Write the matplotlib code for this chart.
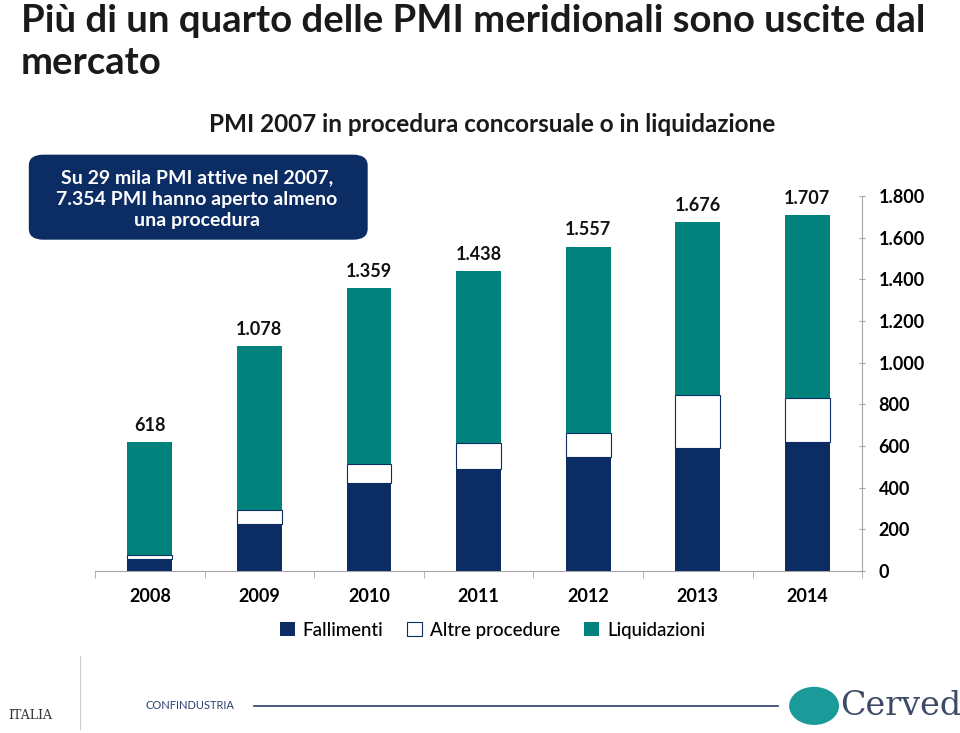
import matplotlib
matplotlib.use("Agg")
import matplotlib.pyplot as plt
from matplotlib.patches import FancyBboxPatch, Circle
import numpy as np

years = ["2008", "2009", "2010", "2011", "2012", "2013", "2014"]
fallimenti = [56, 226, 424, 491, 549, 590, 621]
altre = [22, 67, 90, 122, 112, 254, 210]
totali = [618, 1078, 1359, 1438, 1557, 1676, 1707]
liquidazioni = [t - f - a for t, f, a in zip(totali, fallimenti, altre)]
yticks = [0, 200, 400, 600, 800, 1000, 1200, 1400, 1600, 1800]

NAVY = "#0c2d63"
TEAL = "#00817c"
GRAY = "#a6a6a6"

plt.rcParams['font.family'] = ['Lato', 'DejaVu Sans']

def it_fmt(v):
    return f"{int(v):,}".replace(",", ".")

fig = plt.figure(figsize=(9.6, 7.33), dpi=100)
ax = fig.add_axes([0.099, 0.221, 0.799, 0.5116])

x = np.arange(len(years))
w = 0.41
ax.bar(x, fallimenti, w, color=NAVY, label="Fallimenti", zorder=3)
ax.bar(x, altre, w, bottom=fallimenti, color="white", edgecolor=NAVY,
       linewidth=0.8, label="Altre procedure", zorder=3)
bott = [f + a for f, a in zip(fallimenti, altre)]
ax.bar(x, liquidazioni, w, bottom=bott, color=TEAL, label="Liquidazioni", zorder=3)

for xi, t in zip(x, totali):
    ax.text(xi, t + 40, it_fmt(t), ha="center", va="bottom", fontsize=13,
            fontweight="bold", color="#111111")

ax.set_xlim(-0.5, len(years) - 0.5)
ax.set_ylim(0, 1800)
ax.yaxis.tick_right()
ax.set_yticks(yticks)
ax.set_yticklabels([it_fmt(v) for v in yticks], fontsize=13, fontweight="bold")
ax.set_xticks(x)
ax.set_xticklabels(years, fontsize=13, fontweight="bold")
ax.set_xticks(np.arange(-0.5, len(years), 1), minor=True)
ax.tick_params(axis="x", which="major", length=0, pad=12)
ax.tick_params(axis="x", which="minor", length=5, color=GRAY, direction="out")
ax.tick_params(axis="y", length=4, color=GRAY, direction="inout", pad=10)
for s in ["top", "left"]:
    ax.spines[s].set_visible(False)
ax.spines["bottom"].set_color(GRAY)
ax.spines["right"].set_color(GRAY)

fig.legend(loc="center", bbox_to_anchor=(0.513, 0.1405), ncol=3, frameon=False,
           handlelength=0.8, handleheight=0.8, columnspacing=1.3,
           handletextpad=0.4, prop={'weight': 'medium', 'size': 13.5})

fig.text(0.022, 0.995, "Più di un quarto delle PMI meridionali sono uscite dal\nmercato",
         ha="left", va="top", fontsize=27.5, fontweight="bold", color="#1a1a1a",
         linespacing=1.3)
fig.text(0.513, 0.83, "PMI 2007 in procedura concorsuale o in liquidazione",
         ha="center", va="center", fontsize=17.5, fontweight="bold", color="#1a1a1a")

box = FancyBboxPatch((0.03, 0.673), 0.353, 0.116, boxstyle="round,pad=0,rounding_size=0.015",
                     transform=fig.transFigure, facecolor=NAVY, edgecolor="none")
fig.patches.append(box)
fig.text(0.205, 0.728, "Su 29 mila PMI attive nel 2007,\n7.354 PMI hanno aperto almeno\nuna procedura",
         ha="center", va="center", fontsize=14, fontweight="bold", color="white",
         linespacing=1.3)

# footer logos (approximate)
fig.add_artist(plt.Line2D([0.083, 0.083], [0.005, 0.105], transform=fig.transFigure,
                          color="#cccccc", linewidth=0.8))
fig.text(0.032, 0.024, "ITALIA", ha="center", va="center", fontsize=9,
         family="DejaVu Serif", color="#333333")
fig.text(0.152, 0.037, "CONFINDUSTRIA", ha="left", va="center", fontsize=8, color="#2a3f6e")
fig.add_artist(plt.Line2D([0.265, 0.81], [0.037, 0.037], transform=fig.transFigure,
                          color="#2a3f6e", linewidth=1.2))
fig.patches.append(Circle((0.848, 0.037), 0.026, transform=fig.transFigure,
                          facecolor="#1b9a9a", edgecolor="none"))
fig.text(0.875, 0.037, "Cerved", ha="left", va="center", fontsize=24,
         family="DejaVu Serif", color="#3d4a66")

fig.savefig("out.png", dpi=100)
